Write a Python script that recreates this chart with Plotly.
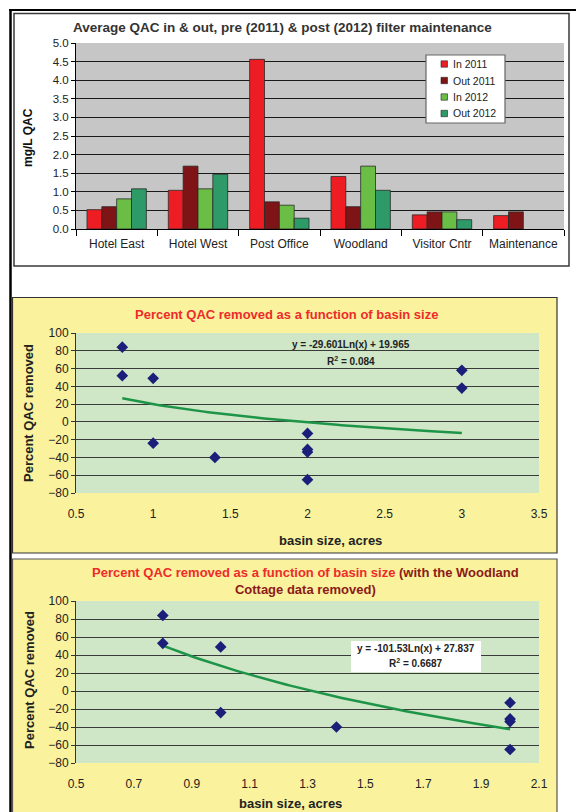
import numpy as np
import plotly.graph_objects as go

# ---------------- data ----------------
sites = ["Hotel East", "Hotel West", "Post Office", "Woodland", "Visitor Cntr", "Maintenance"]
in_2011 = [0.52, 1.04, 4.56, 1.41, 0.38, 0.36]
out_2011 = [0.60, 1.69, 0.73, 0.60, 0.46, 0.46]
in_2012 = [0.81, 1.08, 0.64, 1.69, 0.46, None]
out_2012 = [1.08, 1.47, 0.29, 1.04, 0.25, None]
series_names = ["In 2011", "Out 2011", "In 2012", "Out 2012"]

basin_all = [0.8, 0.8, 1.0, 1.0, 1.4, 2.0, 2.0, 2.0, 2.0, 3.0, 3.0]
removed_all = [84, 52, 49, -24, -40, -13, -31, -34, -65, 58, 38]

basin_nw = [0.8, 0.8, 1.0, 1.0, 1.4, 2.0, 2.0, 2.0, 2.0]
removed_nw = [84, 53, 49, -24, -40, -13, -31, -34, -65]

# trendline coefficients printed on the chart: y = a*Ln(x) + b
trend1_a, trend1_b = -29.601, 19.965
trend1_r2 = "0.084"
trend2_a, trend2_b = -101.53, 27.837
trend2_r2 = "0.6687"

# ---------------- helpers ----------------
W, H = 576, 812
def fx(px):
    return px / W
def fy(py):
    return 1 - py / H

FONT = "Liberation Sans, Arial, sans-serif"
fig = go.Figure()

colors = ["#EE1D24", "#7F1416", "#6ABE45", "#2E9A68"]
for nm, vals, c in zip(series_names, [in_2011, out_2011, in_2012, out_2012], colors):
    fig.add_trace(go.Bar(x=sites, y=vals, name=nm, marker=dict(color=c, line=dict(color="#2a2a2a", width=0.8)),
                         xaxis="x", yaxis="y", showlegend=False))

def trend_xy(xs, a, b):
    t = np.linspace(min(xs), max(xs), 80)
    return t, a * np.log(t) + b

tx1, ty1 = trend_xy(basin_all, trend1_a, trend1_b)
fig.add_trace(go.Scatter(x=tx1, y=ty1, mode="lines", line=dict(color="#1E9448", width=2.5),
                         showlegend=False, xaxis="x2", yaxis="y2", hoverinfo="skip"))
fig.add_trace(go.Scatter(x=basin_all, y=removed_all, mode="markers",
                         marker=dict(symbol="diamond", size=9, color="#1B1F7A"),
                         showlegend=False, xaxis="x2", yaxis="y2"))

tx2, ty2 = trend_xy(basin_nw, trend2_a, trend2_b)
fig.add_trace(go.Scatter(x=tx2, y=ty2, mode="lines", line=dict(color="#1E9448", width=2.5),
                         showlegend=False, xaxis="x3", yaxis="y3", hoverinfo="skip"))
fig.add_trace(go.Scatter(x=basin_nw, y=removed_nw, mode="markers",
                         marker=dict(symbol="diamond", size=9, color="#1B1F7A"),
                         showlegend=False, xaxis="x3", yaxis="y3"))

# domains (pixels -> paper)
top_x = [fx(76), fx(564)]; top_y = [fy(229), fy(43)]
mid_x = [fx(76), fx(539)]; mid_y = [fy(493), fy(333)]
bot_x = [fx(76), fx(539)]; bot_y = [fy(763), fy(601)]

tickfont = dict(family=FONT, size=12, color="#222222")

def zero_pos(ydom_px_top, ydom_px_bot, lo=-80, hi=100):
    py = ydom_px_top + (hi - 0) / (hi - lo) * (ydom_px_bot - ydom_px_top)
    return fy(py)

fig.update_layout(
    template="none",
    width=W, height=H, margin=dict(l=0, r=0, t=0, b=0, pad=0, autoexpand=False),
    paper_bgcolor="white", plot_bgcolor="rgba(0,0,0,0)",
    barmode="group", bargap=0.27, bargroupgap=0,
    font=dict(family=FONT, color="#222222"),
    showlegend=False,
    xaxis=dict(domain=top_x, anchor="y", type="category", tickfont=tickfont, automargin=False,
               showline=True, linecolor="black", linewidth=1, ticks="outside", tickson="boundaries",
               ticklen=6, tickcolor="black", showgrid=False, zeroline=False, fixedrange=True, ticklabelstandoff=4),
    yaxis=dict(domain=top_y, anchor="x", range=[0, 5], dtick=0.5, tickformat=".1f",
               tickfont=dict(family=FONT, size=11.5, color="#222222"), automargin=False,
               showline=True, linecolor="black", linewidth=1, ticks="outside", ticklen=4, tickcolor="black",
               showgrid=True, gridcolor="#1a1a1a", gridwidth=1, zeroline=False),
    xaxis2=dict(domain=mid_x, anchor="y2", range=[0.5, 3.5], dtick=0.5, tick0=0.5, tickfont=tickfont,
                automargin=False,
                showline=False, ticks="", showgrid=False, zeroline=False, ticklabelstandoff=12),
    yaxis2=dict(domain=mid_y, anchor="x2", range=[-80, 100], dtick=20, tickfont=tickfont, automargin=False,
                showline=True, linecolor="#333333", linewidth=1, ticks="outside", ticklen=4, tickcolor="#333333",
                showgrid=True, gridcolor="#3a3a3a", gridwidth=1, zeroline=False),
    xaxis4=dict(overlaying="x2", anchor="free", position=zero_pos(333, 493), range=[0.5, 3.5], dtick=0.5, tick0=0.5,
                automargin=False,
                showticklabels=False, showline=True, linecolor="black", linewidth=1.2, ticks="outside",
                ticklen=4, tickcolor="black", showgrid=False, zeroline=False),
    xaxis3=dict(domain=bot_x, anchor="y3", range=[0.5, 2.1], dtick=0.2, tick0=0.5, tickfont=tickfont,
                automargin=False,
                showline=False, ticks="", showgrid=False, zeroline=False, ticklabelstandoff=12),
    yaxis3=dict(domain=bot_y, anchor="x3", range=[-80, 100], dtick=20, tickfont=tickfont, automargin=False,
                showline=True, linecolor="#333333", linewidth=1, ticks="outside", ticklen=4, tickcolor="#333333",
                showgrid=True, gridcolor="#3a3a3a", gridwidth=1, zeroline=False),
    xaxis5=dict(overlaying="x3", anchor="free", position=zero_pos(601, 763), range=[0.5, 2.1], dtick=0.2, tick0=0.5,
                automargin=False,
                showticklabels=False, showline=True, linecolor="black", linewidth=1.2, ticks="outside",
                ticklen=4, tickcolor="black", showgrid=False, zeroline=False),
)

shapes = []
# page border lines
shapes.append(dict(type="line", xref="paper", yref="paper", x0=fx(10.5), x1=fx(10.5), y0=fy(9), y1=fy(812),
                   line=dict(color="black", width=2.5), layer="below"))
shapes.append(dict(type="line", xref="paper", yref="paper", x0=fx(9), x1=fx(576), y0=fy(10), y1=fy(10),
                   line=dict(color="black", width=2), layer="below"))
# top chart frame
shapes.append(dict(type="rect", xref="paper", yref="paper", x0=fx(14), x1=fx(569), y0=fy(266), y1=fy(13.5),
                   fillcolor="white", line=dict(color="#3a3a3a", width=1.5), layer="below"))
# yellow panels
shapes.append(dict(type="rect", xref="paper", yref="paper", x0=fx(12.5), x1=fx(557), y0=fy(553), y1=fy(297.5),
                   fillcolor="#FAF29C", line=dict(color="#333333", width=1.2), layer="below"))
shapes.append(dict(type="rect", xref="paper", yref="paper", x0=fx(12.5), x1=fx(557), y0=fy(818), y1=fy(559),
                   fillcolor="#FAF29C", line=dict(color="#555555", width=1.2), layer="below"))
# plot area backgrounds
for xd, yd, col in [(top_x, top_y, "#C6C6C6"), (mid_x, mid_y, "#CFE7C6"), (bot_x, bot_y, "#CFE7C6")]:
    shapes.append(dict(type="rect", xref="paper", yref="paper", x0=xd[0], x1=xd[1], y0=yd[0], y1=yd[1],
                       fillcolor=col, line=dict(width=0), layer="below"))
# white box for second equation
shapes.append(dict(type="rect", xref="paper", yref="paper", x0=fx(351), x1=fx(481), y0=fy(672), y1=fy(641),
                   fillcolor="white", line=dict(width=0), layer="above"))

ann = []
def A(text, px, py, size, color="#222222", angle=0, xanchor="center"):
    ann.append(dict(text=text, x=fx(px), y=fy(py), xref="paper", yref="paper", showarrow=False,
                    xanchor=xanchor, yanchor="middle", textangle=angle,
                    font=dict(family=FONT, size=size, color=color)))

# custom legend (box + swatches + labels)
shapes.append(dict(type="rect", xref="paper", yref="paper", x0=fx(426), x1=fx(505), y0=fy(123), y1=fy(55),
                   fillcolor="white", line=dict(color="#666666", width=1.2), layer="above"))
for i, (nm, c) in enumerate(zip(series_names, colors)):
    yc = 64 + i * 16.5
    shapes.append(dict(type="rect", xref="paper", yref="paper", x0=fx(441), x1=fx(447.5), y0=fy(yc + 3.2),
                       y1=fy(yc - 3.2), fillcolor=c, line=dict(color="#222222", width=0.6), layer="above"))
    A(nm, 451, yc, 10.5, "#222222", xanchor="left")

fig.update_layout(shapes=shapes)

A("<b>Average QAC in &amp; out, pre (2011) &amp; post (2012) filter maintenance</b>", 282, 27, 13.5, "#333333")
A("<b>mg/L QAC</b>", 28, 138, 12, "#111111", angle=-90)

A("<b>Percent QAC removed as a function of basin size</b>", 286, 314, 13, "#EE2B2B")
A("<b>Percent QAC removed</b>", 29, 413, 13, "#222222", angle=-90)
A("<b>basin size, acres</b>", 330, 540, 13, "#222222")
A("<b>y = %.3fLn(x) + %.3f</b>" % (trend1_a, trend1_b), 351, 345, 10, "#222222")
A("<b>R<sup>2</sup> = %s</b>" % trend1_r2, 351, 361, 10, "#222222")

A("<b><span style='color:#EE2B2B'>Percent QAC removed as a function of basin size</span> (with the Woodland<br>Cottage data removed)</b>",
  305, 581, 13, "#8B1A1A")
A("<b>Percent QAC removed</b>", 29, 680, 13, "#222222", angle=-90)
A("<b>basin size, acres</b>", 290, 803, 13, "#222222")
A("<b>y = %.2fLn(x) + %.3f</b>" % (trend2_a, trend2_b), 416, 648, 10, "#222222")
A("<b>R<sup>2</sup> = %s</b>" % trend2_r2, 416, 663, 10, "#222222")
fig.update_layout(annotations=ann)

fig.write_html("out.html", config={"displayModeBar": False},
               post_script="document.body.style.margin='0px';document.body.style.overflow='hidden';")
